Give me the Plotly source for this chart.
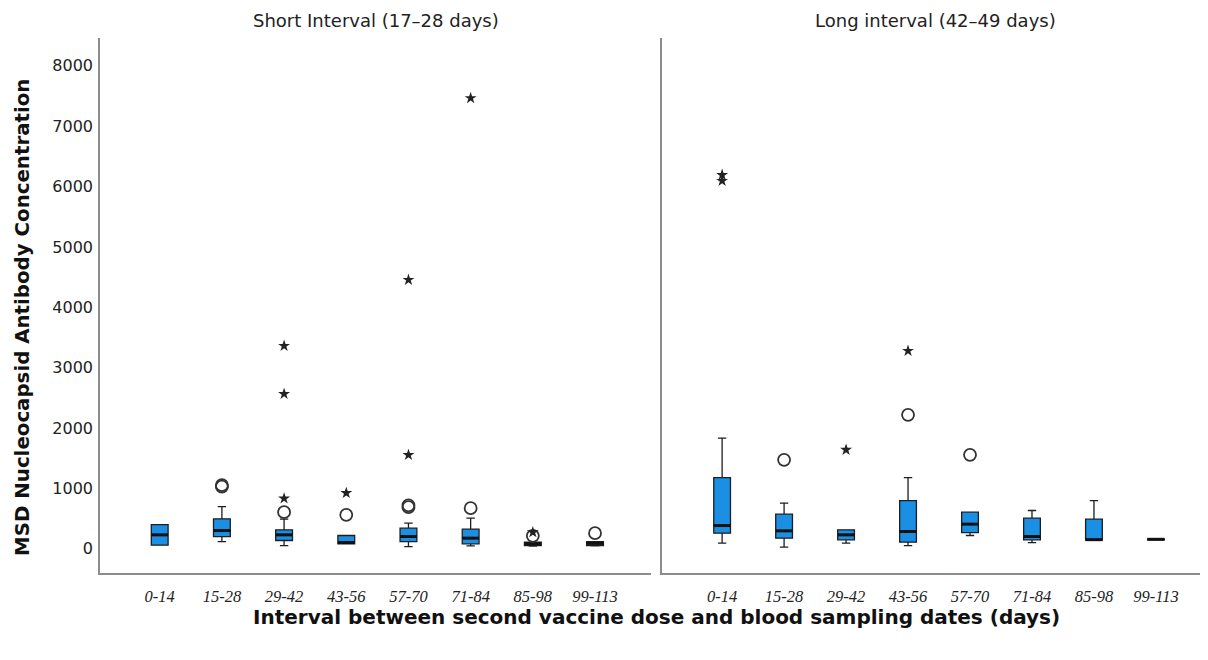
import plotly.graph_objects as go

categories = ["0-14", "15-28", "29-42", "43-56", "57-70", "71-84", "85-98", "99-113"]
y_ticks = [0, 1000, 2000, 3000, 4000, 5000, 6000, 7000, 8000]

# Short interval (17–28 days)
short_q1 = [60, 204, 138, 83, 121, 83, 55, 55]
short_median = [232, 303, 232, 105, 204, 177, 85, 90]
short_q3 = [400, 497, 315, 221, 342, 326, 110, 121]
short_low = [60, 121, 55, 83, 38, 50, 45, 50]
short_high = [400, 700, 491, 221, 425, 508, 110, 121]
short_circle_cat = [1, 1, 2, 3, 4, 4, 5, 6, 7]
short_circle_val = [1030, 1055, 607, 563, 690, 720, 674, 215, 260]
short_star_cat = [2, 2, 2, 3, 4, 4, 5, 6]
short_star_val = [835, 2565, 3362, 925, 1555, 4455, 7465, 275]

# Long interval (42–49 days)
long_q1 = [260, 177, 149, 111, 270, 149, 144, 150]
long_median = [386, 298, 232, 287, 409, 204, 152, 158]
long_q3 = [1181, 575, 315, 800, 607, 508, 491, 165]
long_low = [94, 28, 94, 55, 221, 104, 144, 150]
long_high = [1833, 757, 315, 1181, 607, 635, 800, 165]
long_circle_cat = [1, 3, 4]
long_circle_val = [1474, 2219, 1557]
long_star_cat = [0, 0, 2, 3]
long_star_val = [6094, 6193, 1640, 3279]

BOX_W = 0.27
FILL = "#1a8fe4"
EDGE = "#1e1e1e"

fig = go.Figure()
idx = list(range(len(categories)))

panels = [
    ("x", "y", short_q1, short_median, short_q3, short_low, short_high,
     short_circle_cat, short_circle_val, short_star_cat, short_star_val),
    ("x2", "y2", long_q1, long_median, long_q3, long_low, long_high,
     long_circle_cat, long_circle_val, long_star_cat, long_star_val),
]

for xa, ya, q1, med, q3, lo, hi, cc, cv, sc, sv in panels:
    fig.add_trace(go.Box(
        x=idx, q1=q1, median=med, q3=q3, lowerfence=lo, upperfence=hi,
        width=BOX_W, whiskerwidth=0.5, fillcolor=FILL,
        line=dict(color=EDGE, width=1.3), boxpoints=False,
        xaxis=xa, yaxis=ya, showlegend=False, hoverinfo="skip"))
    mx, my = [], []
    for i, m in zip(idx, med):
        mx += [i - BOX_W / 2, i + BOX_W / 2, None]
        my += [m, m, None]
    fig.add_trace(go.Scatter(
        x=mx, y=my, mode="lines", line=dict(color="#111", width=3),
        xaxis=xa, yaxis=ya, showlegend=False, hoverinfo="skip"))
    fig.add_trace(go.Scatter(
        x=cc, y=cv, mode="markers",
        marker=dict(symbol="circle-open", size=12, color="#333",
                    line=dict(width=1.8, color="#333")),
        xaxis=xa, yaxis=ya, showlegend=False, hoverinfo="skip"))
    fig.add_trace(go.Scatter(
        x=sc, y=sv, mode="markers",
        marker=dict(symbol="star", size=9, color="#222",
                    line=dict(width=0)),
        xaxis=xa, yaxis=ya, showlegend=False, hoverinfo="skip"))

tick_text = ["<i>%s</i>" % c for c in categories]
xcommon = dict(
    tickmode="array", tickvals=idx, ticktext=tick_text,
    showline=True, linecolor="#8c8c8c", linewidth=1.6, ticks="",
    showgrid=False, zeroline=False, ticklabelstandoff=7,
    tickfont=dict(family="Liberation Serif", size=16.5, color="#222"),
)
ycommon = dict(
    range=[-400, 8460], showline=True, linecolor="#8c8c8c", linewidth=1.6,
    showgrid=False, zeroline=False, ticks="",
)

PW = 1108  # plot area width in px
dom_split_l = 551 / PW
dom_split_r = 562 / PW

fig.update_layout(
    width=1200, height=652,
    margin=dict(l=92, r=0, t=30, b=87),
    paper_bgcolor="white", plot_bgcolor="white",
    font=dict(family="DejaVu Sans", color="#222"),
    xaxis=dict(domain=[0, dom_split_l], anchor="y", range=[-0.96, 7.9], **xcommon),
    xaxis2=dict(domain=[dom_split_r, 1], anchor="y2", range=[-0.97, 7.84], **xcommon),
    yaxis=dict(domain=[0, 1], anchor="x", tickmode="array", tickvals=y_ticks,
               ticktext=[str(v) for v in y_ticks], ticklabelstandoff=2,
               tickfont=dict(family="DejaVu Sans", size=16, color="#222"),
               **ycommon),
    yaxis2=dict(domain=[0, 1], anchor="x2", showticklabels=False, **ycommon),
    annotations=[
        dict(text="Short Interval (17\u201328 days)", x=dom_split_l / 2, y=1,
             xref="paper", yref="paper", xanchor="center", yanchor="bottom",
             yshift=5, showarrow=False,
             font=dict(family="DejaVu Sans", size=18, color="#222")),
        dict(text="Long interval (42\u201349 days)", x=(dom_split_r + 1) / 2, y=1,
             xref="paper", yref="paper", xanchor="center", yanchor="bottom",
             yshift=5, showarrow=False,
             font=dict(family="DejaVu Sans", size=18, color="#222")),
        dict(text="<b>Interval between second vaccine dose and blood sampling dates (days)</b>",
             x=(656 - 100) / PW, y=0, xref="paper", yref="paper",
             xanchor="center", yanchor="middle", yshift=-(617 - 573),
             showarrow=False,
             font=dict(family="DejaVu Sans", size=20, color="#111")),
        dict(text="<b>MSD Nucleocapsid Antibody Concentration</b>",
             x=0, y=(573 - 318) / 535, xref="paper", yref="paper",
             xanchor="center", yanchor="middle", xshift=-(100 - 22),
             textangle=-90, showarrow=False,
             font=dict(family="DejaVu Sans", size=19.8, color="#111")),
    ],
)

fig.write_html("out.html")
